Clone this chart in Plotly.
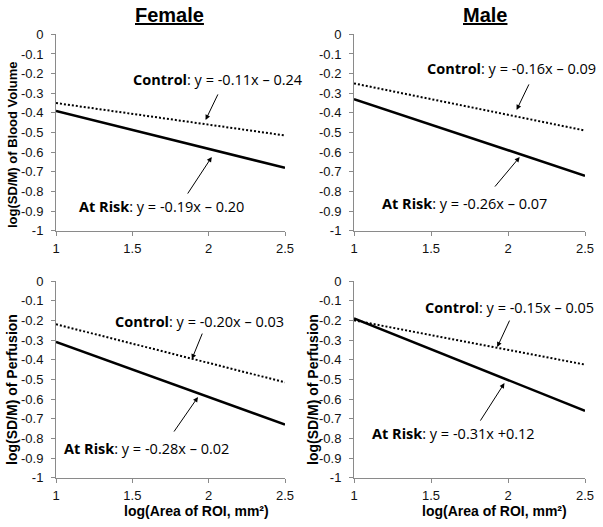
import plotly.graph_objects as go

# ---- data ----
x_vals = [1, 2.5]
female_bv_control = [-0.35, -0.515]
female_bv_atrisk = [-0.39, -0.68]
male_bv_control = [-0.25, -0.49]
male_bv_atrisk = [-0.33, -0.72]
female_pf_control = [-0.22, -0.515]
female_pf_atrisk = [-0.31, -0.73]
male_pf_control = [-0.20, -0.425]
male_pf_atrisk = [-0.19, -0.66]

x_ticks = [1, 1.5, 2, 2.5]
x_ticklabels = ["1", "1.5", "2", "2.5"]
y_ticks = [0, -0.1, -0.2, -0.3, -0.4, -0.5, -0.6, -0.7, -0.8, -0.9, -1]
y_ticklabels = ["0", "-0.1", "-0.2", "-0.3", "-0.4", "-0.5", "-0.6", "-0.7", "-0.8", "-0.9", "-1"]

panel_titles = ["Female", "Male"]
y_titles = ["log(SD/M) of Blood Volume", "log(SD/M) of Perfusion"]
x_title = "log(Area of ROI, mm²)"
eq_labels = {
    "fbv_c": "<b>Control</b>: y = -0.11x – 0.24",
    "fbv_r": "<b>At Risk</b>: y = -0.19x – 0.20",
    "mbv_c": "<b>Control</b>: y = -0.16x – 0.09",
    "mbv_r": "<b>At Risk</b>: y = -0.26x – 0.07",
    "fpf_c": "<b>Control</b>: y = -0.20x – 0.03",
    "fpf_r": "<b>At Risk</b>: y = -0.28x – 0.02",
    "mpf_c": "<b>Control</b>: y = -0.15x – 0.05",
    "mpf_r": "<b>At Risk</b>: y = -0.31x +0.12",
}

W, H = 603, 527

def px(xp):
    return xp / W

def py(yp):
    return 1 - yp / H

fig = go.Figure()

panels = [
    ("x", "y", female_bv_control, female_bv_atrisk),
    ("x2", "y2", male_bv_control, male_bv_atrisk),
    ("x3", "y3", female_pf_control, female_pf_atrisk),
    ("x4", "y4", male_pf_control, male_pf_atrisk),
]
for xa, ya, ctrl, risk in panels:
    fig.add_trace(go.Scatter(x=x_vals, y=ctrl, xaxis=xa, yaxis=ya, mode="lines",
                             line=dict(color="black", width=2, dash="2px,2px"),
                             showlegend=False, hoverinfo="skip"))
    fig.add_trace(go.Scatter(x=x_vals, y=risk, xaxis=xa, yaxis=ya, mode="lines",
                             line=dict(color="black", width=2.5),
                             showlegend=False, hoverinfo="skip"))

tickfont = dict(family="Liberation Sans, Arial, sans-serif", size=13, color="#111")
ax_common = dict(showline=True, linecolor="#8a8a8a", linewidth=1, ticks="outside",
                 tickcolor="#8a8a8a", ticklen=4, showgrid=False, zeroline=False,
                 tickfont=tickfont, fixedrange=True, automargin=False)

xdoms = [[px(56), px(285)], [px(354), px(585)]]
ydoms = [[py(230.7), py(34.3)], [py(477.7), py(281)]]

layout = dict(
    template="none",
    width=W, height=H, margin=dict(l=0, r=0, t=0, b=0, pad=0, autoexpand=False),
    paper_bgcolor="white", plot_bgcolor="white", showlegend=False,
)
axis_names = [("xaxis", "yaxis", "y", "x", 0, 0), ("xaxis2", "yaxis2", "y2", "x2", 1, 0),
              ("xaxis3", "yaxis3", "y3", "x3", 0, 1), ("xaxis4", "yaxis4", "y4", "x4", 1, 1)]
for xn, yn, anchor_y, anchor_x, col, row in axis_names:
    layout[xn] = dict(ax_common, domain=xdoms[col], range=[1, 2.5], tickvals=x_ticks,
                      ticktext=x_ticklabels, anchor=anchor_y, ticklabelstandoff=2)
    layout[yn] = dict(ax_common, domain=ydoms[row], range=[-1, 0], tickvals=y_ticks,
                      ticktext=y_ticklabels, anchor=anchor_x, ticklabelstandoff=5)
fig.update_layout(**layout)

ann = []
title_font = dict(family="Liberation Sans, Arial, sans-serif", size=20, color="black")
ann.append(dict(text="<b><u>%s</u></b>" % panel_titles[0], x=px(169), y=py(15), xref="paper", yref="paper",
                showarrow=False, font=title_font, xanchor="center", yanchor="middle"))
ann.append(dict(text="<b><u>%s</u></b>" % panel_titles[1], x=px(485), y=py(15), xref="paper", yref="paper",
                showarrow=False, font=title_font, xanchor="center", yanchor="middle"))

ytf = dict(family="Liberation Sans, Arial, sans-serif", size=13, color="black")
ann.append(dict(text="<b>%s</b>" % y_titles[0], x=px(12), y=py(145), xref="paper", yref="paper",
                showarrow=False, font=ytf, textangle=-90, xanchor="center", yanchor="middle"))
ann.append(dict(text="<b>%s</b>" % y_titles[1], x=px(12), y=py(390), xref="paper", yref="paper",
                showarrow=False, font=dict(ytf, size=14), textangle=-90, xanchor="center", yanchor="middle"))
ann.append(dict(text="<b>%s</b>" % y_titles[1], x=px(313), y=py(390), xref="paper", yref="paper",
                showarrow=False, font=dict(ytf, size=14), textangle=-90, xanchor="center", yanchor="middle"))
xtf = dict(family="Liberation Sans, Arial, sans-serif", size=14, color="black")
ann.append(dict(text="<b>%s</b>" % x_title, x=px(196), y=py(511), xref="paper", yref="paper",
                showarrow=False, font=xtf, xanchor="center", yanchor="middle"))
ann.append(dict(text="<b>%s</b>" % x_title, x=px(494), y=py(511), xref="paper", yref="paper",
                showarrow=False, font=xtf, xanchor="center", yanchor="middle"))

eqf = dict(family="Open Sans, Lato, sans-serif", size=14.5, color="black")
eq_pos = {
    "fbv_c": (218, 79), "fbv_r": (161, 206),
    "mbv_c": (511, 69), "mbv_r": (464, 203),
    "fpf_c": (199, 321), "fpf_r": (146, 448),
    "mpf_c": (509, 307), "mpf_r": (453, 433),
}
for k, (xp, yp) in eq_pos.items():
    ann.append(dict(text=eq_labels[k], x=px(xp), y=py(yp), xref="paper", yref="paper",
                    showarrow=False, font=eqf, xanchor="center", yanchor="middle"))

arrows = [
    ("x", "y", 1.98, -0.436, 13, -27),
    ("x", "y", 2.02, -0.625, -25, 38),
    ("x2", "y2", 2.056, -0.385, 13, -27),
    ("x2", "y2", 2.076, -0.625, -26, 31),
    ("x3", "y3", 1.89, -0.397, 11, -27),
    ("x3", "y3", 1.93, -0.59, -25, 36),
    ("x4", "y4", 1.93, -0.336, 13, -28),
    ("x4", "y4", 1.977, -0.519, -25, 39),
]
for xr, yr, xx, yy, axp, ayp in arrows:
    ann.append(dict(text="", x=xx, y=yy, xref=xr, yref=yr, ax=axp, ay=ayp,
                    showarrow=True, arrowhead=2, arrowsize=1, arrowwidth=1,
                    arrowcolor="black", standoff=0))

fig.update_layout(annotations=ann)
fig.write_html("out.html", config={"displayModeBar": False},
               post_script="document.body.style.margin='0';document.body.style.overflow='hidden';")
